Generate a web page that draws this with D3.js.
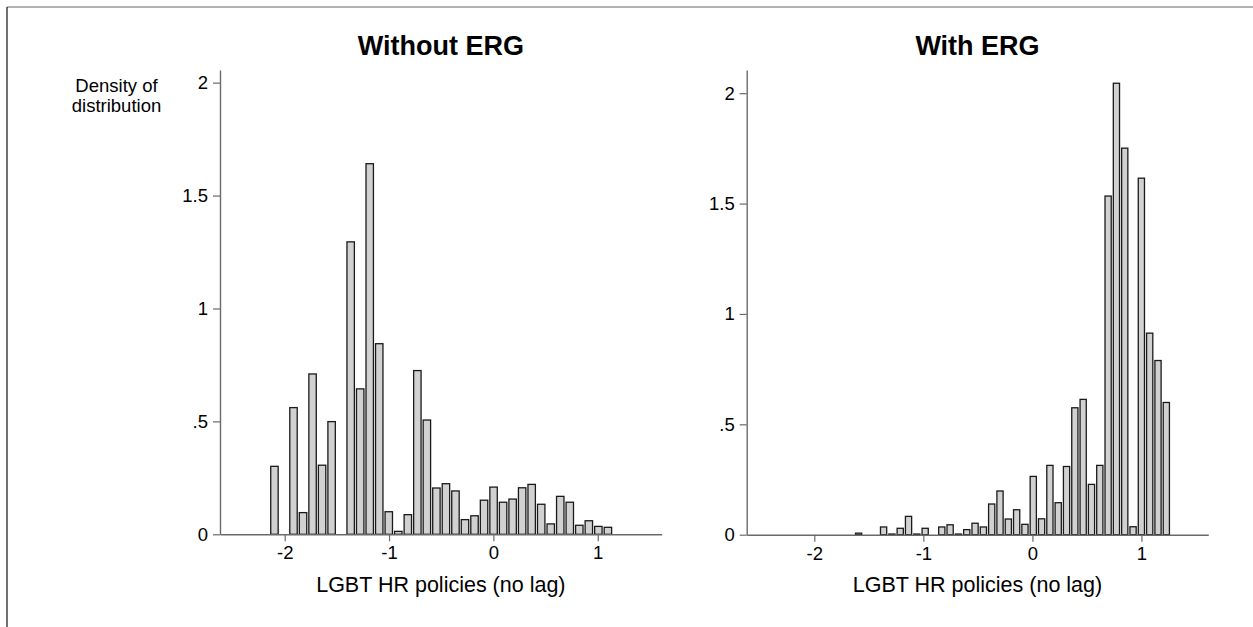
<!DOCTYPE html>
<html>
<head>
<meta charset="utf-8">
<script src="https://cdn.jsdelivr.net/npm/d3@7"></script>
<style>
  html, body { margin: 0; padding: 0; background: #fff; }
  svg text { font-family: "Liberation Sans", Arial, Helvetica, sans-serif; fill: #000; }
</style>
</head>
<body>
<svg id="chart" width="1253" height="627"></svg>
<script>
// ---------------- data ----------------
const panelTitles = ["Without ERG", "With ERG"];
const xAxisTitle = "LGBT HR policies (no lag)";
const yAxisTitle = ["Density of", "distribution"];
const xTicks = [-2, -1, 0, 1];
const yTicks = [0, 0.5, 1, 1.5, 2];

// histogram bins: first bin left edge and bin width (LGBT HR policies units)
const binStartWithout = -2.140;
const binWidthWithout = 0.0913;
const densityWithout = [
  0.301, 0, 0.561, 0.096, 0.710, 0.306, 0.499, 0, 1.295, 0.644,
  1.641, 0.844, 0.100, 0.013, 0.087, 0.725, 0.506, 0.205, 0.224, 0.192,
  0.065, 0.082, 0.151, 0.209, 0.142, 0.156, 0.206, 0.221, 0.133, 0.046,
  0.168, 0.142, 0.040, 0.060, 0.035, 0.031
];

const binStartWith = -1.628;
const binWidthWith = 0.07626;
const densityWith = [
  0.007, 0, 0, 0.035, 0.003, 0.029, 0.083, 0.003, 0.029, 0,
  0.035, 0.045, 0.003, 0.023, 0.052, 0.035, 0.139, 0.198, 0.071, 0.113,
  0.047, 0.264, 0.072, 0.314, 0.145, 0.309, 0.575, 0.613, 0.228, 0.314,
  1.534, 2.045, 1.751, 0.036, 1.615, 0.913, 0.789, 0.599
];

const xDomain = [-2.62, 1.613];
const yMaxWithout = 2.056;
const yMaxWith = 2.105;

// ---------------- layout ----------------
const svg = d3.select("#chart");
const TICK_FONT = 18.5;
const XTITLE_FONT = 21.5;
const YTITLE_FONT = 18.5;

// outer frame (top + left lines)
svg.append("line").attr("x1", 7).attr("x2", 1253).attr("y1", 7).attr("y2", 7)
  .attr("stroke", "#666").attr("stroke-width", 1.2);
svg.append("line").attr("x1", 7).attr("x2", 7).attr("y1", 7).attr("y2", 627)
  .attr("stroke", "#111").attr("stroke-width", 1.2);

const panels = [
  { title: panelTitles[0], start: binStartWithout, width: binWidthWithout, dens: densityWithout,
    x0: 220, x1: 661.7, yTop: 70, yBottom: 534.3, yMax: yMaxWithout, showYTitle: true },
  { title: panelTitles[1], start: binStartWith, width: binWidthWith, dens: densityWith,
    x0: 746.7, x1: 1208.3, yTop: 70, yBottom: 534.7, yMax: yMaxWith, showYTitle: false }
];

const fmtY = d => String(d).replace(/^0\./, ".");
const fmtX = d => String(d);

panels.forEach(p => {
  const x = d3.scaleLinear().domain(xDomain).range([p.x0, p.x1]);
  const y = d3.scaleLinear().domain([0, p.yMax]).range([p.yBottom, p.yTop]);
  const g = svg.append("g");

  const bins = p.dens.map((v, i) => ({
    a: p.start + i * p.width,
    b: p.start + (i + 1) * p.width,
    v: v
  })).filter(d => d.v > 0);

  // bars
  g.append("g").selectAll("rect").data(bins).join("rect")
    .attr("x", d => x(d.a) + 0.65)
    .attr("width", d => Math.max(0, x(d.b) - x(d.a) - 2.1))
    .attr("y", d => y(d.v))
    .attr("height", d => Math.max(0.3, y(0) - y(d.v)))
    .attr("fill", "#d1d1d1")
    .attr("stroke", "#1a1a1a")
    .attr("stroke-width", 1.3);

  // x axis
  const xa = g.append("g").attr("transform", `translate(0,${p.yBottom})`)
    .call(d3.axisBottom(x).tickValues(xTicks).tickFormat(fmtX).tickSize(7).tickPadding(5).tickSizeOuter(0));
  // y axis
  const ya = g.append("g").attr("transform", `translate(${p.x0},0)`)
    .call(d3.axisLeft(y).tickValues(yTicks).tickFormat(fmtY).tickSize(7).tickPadding(5).tickSizeOuter(0));

  [xa, ya].forEach(a => {
    a.select(".domain").attr("stroke", "#6a6a6a").attr("stroke-width", 1.4);
    a.selectAll(".tick line").attr("stroke", "#6a6a6a").attr("stroke-width", 1.2);
    a.selectAll(".tick text").attr("font-size", TICK_FONT).attr("fill", "#000")
      .style("font-family", '"Liberation Sans", Arial, sans-serif');
  });

  // panel title
  g.append("text").attr("x", (p.x0 + p.x1) / 2).attr("y", 55)
    .attr("text-anchor", "middle").attr("font-size", 27).attr("font-weight", "bold")
    .text(p.title);

  // x axis title
  g.append("text").attr("x", (p.x0 + p.x1) / 2).attr("y", 592)
    .attr("text-anchor", "middle").attr("font-size", XTITLE_FONT)
    .text(xAxisTitle);

  if (p.showYTitle) {
    yAxisTitle.forEach((t, i) => {
      g.append("text").attr("x", 116.5).attr("y", 92 + i * 19.5)
        .attr("text-anchor", "middle").attr("font-size", YTITLE_FONT)
        .text(t);
    });
  }
});
</script>
</body>
</html>
